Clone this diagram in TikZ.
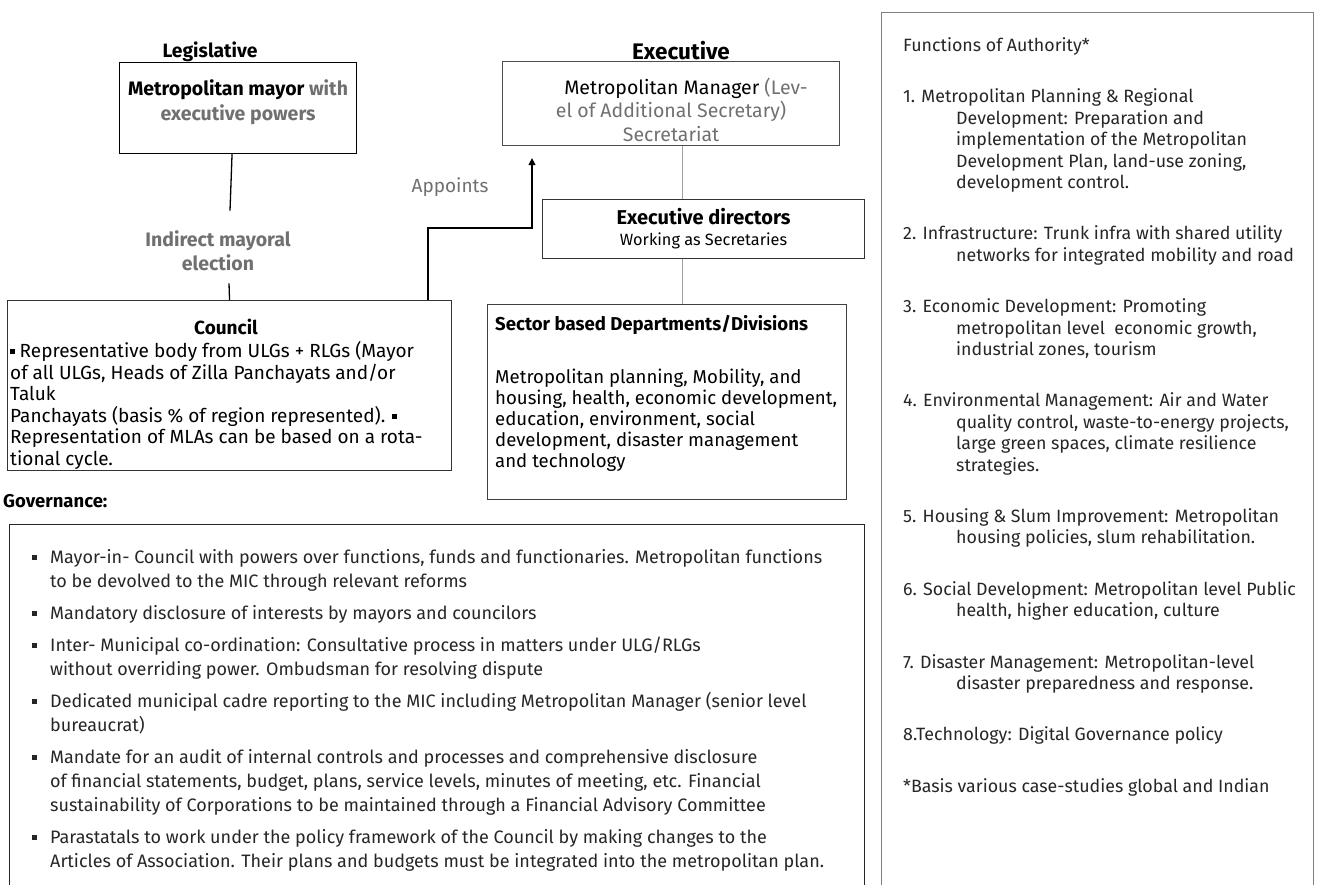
\documentclass[tikz,border=0pt]{standalone}
\usepackage{fontspec}
\setmainfont{Fira Sans}
\usepackage{xcolor}
\usetikzlibrary{positioning, calc, arrows.meta}

\definecolor{txtgray}{HTML}{707070}
\definecolor{linegray}{HTML}{A0A0A0}
\newcommand{\sqbul}{\makebox[18pt][l]{\rule[3.5pt]{4.5pt}{5pt}}}
\newcommand{\cbul}{\rule[3.5pt]{4.5pt}{5pt}}

\begin{document}
\begin{tikzpicture}[x=1pt, y=-1pt,
  box/.style={draw=black!80, line width=1.1pt, inner sep=0pt, anchor=north west},
  txt/.style={inner sep=0pt, align=left, anchor=north west},
  link/.style={line width=1.3pt},
  greylink/.style={draw=linegray, line width=1.8pt}]
\useasboundingbox (0,0) rectangle (1322,885);
\clip (0,0) rectangle (1322,885);

\node (legis) [font=\bfseries\fontsize{19.3}{22}\selectfont] at (210,52) {Legislative};
\node (mayor) [box, draw=black, minimum width=237pt, minimum height=91pt] at (119,62) {};
\node (mayortxt) [inner sep=0pt, align=center, anchor=north, font=\bfseries\fontsize{19.5}{25}\selectfont] at ([yshift=-17.5pt]mayor.north) {Metropolitan mayor \textcolor{txtgray}{with}\\ \textcolor{txtgray}{executive powers}};
\node (election) [inner sep=0pt, align=center, text=txtgray, font=\bfseries\fontsize{19.5}{24}\selectfont] at (218,251) {Indirect mayoral\\election};

\node (council) [box, minimum width=444pt, minimum height=170pt] at (7,300) {};
\node (counciltitle) [inner sep=0pt, font=\bfseries\fontsize{19}{22}\selectfont] at (226,327) {Council};
\node (counciltxt) [txt, font=\fontsize{19}{21.5}\selectfont] at ([xshift=3pt,yshift=-41.5pt]council.north west) {\cbul{} Representative body from ULGs + RLGs (Mayor\\ of all ULGs, Heads of Zilla Panchayats and/or\\ Taluk\\ Panchayats (basis \% of region represented). \cbul\\ Representation of MLAs can be based on a rota-\\ tional cycle.};

\node (exlabel) [font=\bfseries\fontsize{22.5}{25}\selectfont] at (681,51) {Executive};
\node (exec) [box, draw=black!70, minimum width=337pt, minimum height=84pt] at (502,61) {};
\node (exectxt) [inner sep=0pt, align=center, anchor=north, font=\fontsize{19.5}{23.5}\selectfont] at ([yshift=-16.5pt]exec.north) {\hspace*{30pt}Metropolitan Manager \textcolor{txtgray}{(Lev-}\\ \textcolor{txtgray}{el of Additional Secretary)}\\ \textcolor{txtgray}{Secretariat}};
\node (exdir) [box, minimum width=322pt, minimum height=59pt, align=center, font=\fontsize{20}{21}\selectfont] at (542,199) {\textbf{Executive directors}\\ {\fontsize{16.3}{18}\selectfont Working as Secretaries}};

\node (sector) [box, draw=black!75, minimum width=359pt, minimum height=195pt] at (487,304) {};
\node (sectortitle) [txt, font=\bfseries\fontsize{18.6}{22}\selectfont] at ([xshift=8pt,yshift=-11.5pt]sector.north west) {Sector based Departments/Divisions};
\node (sectortxt) [txt, font=\fontsize{18.6}{21}\selectfont] at ([xshift=8pt,yshift=-64.5pt]sector.north west) {Metropolitan planning, Mobility, and\\ housing, health, economic development,\\ education, environment, social\\ development, disaster management\\ and technology};

\node (govlabel) [inner sep=0pt, anchor=west, font=\bfseries\fontsize{18.5}{22}\selectfont] at (3,501) {Governance:};
\node (gov) [box, draw=black!85, minimum width=855pt, minimum height=400pt] at (9,524) {};
\node (govtxt) [txt, text=black!85, font=\fontsize{18}{24.2}\selectfont] at ([xshift=23pt,yshift=-25.5pt]gov.north west) {\sqbul Mayor-in- Council with powers over functions, funds and functionaries. Metropolitan functions\\ \hspace*{18pt}to be devolved to the MIC through relevant reforms\\[7.5pt]
\sqbul Mandatory disclosure of interests by mayors and councilors\\[7.5pt]
\sqbul Inter- Municipal co-ordination: Consultative process in matters under ULG/RLGs\\ \hspace*{18pt}without overriding power. Ombudsman for resolving dispute\\[7.5pt]
\sqbul Dedicated municipal cadre reporting to the MIC including Metropolitan Manager (senior level\\ \hspace*{18pt}bureaucrat)\\[7.5pt]
\sqbul Mandate for an audit of internal controls and processes and comprehensive disclosure\\ \hspace*{18pt}of financial statements, budget, plans, service levels, minutes of meeting, etc. Financial\\ \hspace*{18pt}sustainability of Corporations to be maintained through a Financial Advisory Committee\\[7.5pt]
\sqbul Parastatals to work under the policy framework of the Council by making changes to the\\ \hspace*{18pt}Articles of Association. Their plans and budgets must be integrated into the metropolitan plan.};

\node (panel) [box, draw=black!50, minimum width=432pt, minimum height=900pt] at (881,12) {};
\node (paneltxt) [txt, text=black!85, font=\fontsize{17.8}{21.4}\selectfont] at ([xshift=22pt,yshift=-25.5pt]panel.north west) {Functions of Authority*\\[30pt]
1. Metropolitan Planning \& Regional\\ \hspace*{53pt}Development: Preparation and\\ \hspace*{53pt}implementation of the Metropolitan\\ \hspace*{53pt}Development Plan, land-use zoning,\\ \hspace*{53pt}development control.\\[30pt]
2. Infrastructure: Trunk infra with shared utility\\ \hspace*{53pt}networks for integrated mobility and road\\[30pt]
3. Economic Development: Promoting\\ \hspace*{53pt}metropolitan level \ economic growth,\\ \hspace*{53pt}industrial zones, tourism\\[30pt]
4. Environmental Management: Air and Water\\ \hspace*{53pt}quality control, waste-to-energy projects,\\ \hspace*{53pt}large green spaces, climate resilience\\ \hspace*{53pt}strategies.\\[30pt]
5. Housing \& Slum Improvement: Metropolitan\\ \hspace*{53pt}housing policies, slum rehabilitation.\\[30pt]
6. Social Development: Metropolitan level Public\\ \hspace*{53pt}health, higher education, culture\\[30pt]
7. Disaster Management: Metropolitan-level\\ \hspace*{53pt}disaster preparedness and response.\\[30pt]
8.Technology: Digital Governance policy\\[30pt]
*Basis various case-studies global and Indian};

\node (appoints) [text=txtgray, font=\fontsize{19}{22}\selectfont] at (450,187) {Appoints};

\draw [link] ([xshift=-6pt]mayor.south) -- ([xshift=12pt,yshift=20pt]election.north);
\draw [link] ([xshift=11pt,yshift=-12pt]election.south) -- (council.north);
\draw [link, -{Triangle[length=7pt,width=7pt]}] ([xshift=-24pt]council.north east) -- ++(0,-72) -| ([xshift=30pt,yshift=-12pt]exec.south west);
\draw [greylink] ([xshift=11.5pt]exec.south) -- ([xshift=-21pt]exdir.north);
\draw [greylink] ([xshift=-21pt]exdir.south) -- ([xshift=15.5pt]sector.north);
\end{tikzpicture}
\end{document}
